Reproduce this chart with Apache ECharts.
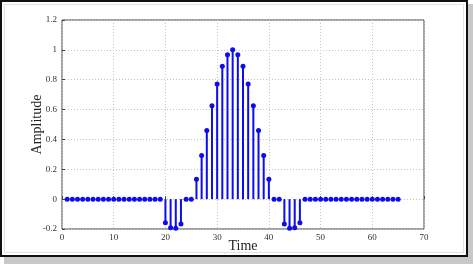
<!DOCTYPE html>
<html><head><meta charset="utf-8">
<script src="https://cdn.jsdelivr.net/npm/echarts@6/dist/echarts.min.js"></script>
<style>html,body{margin:0;padding:0;background:#fff}#c{width:473px;height:264px}</style>
</head><body><div id="c"></div>
<script>
const times = [];
for (let i = 1; i <= 65; i++) times.push(i);
const amplitudes = [
  0,0,0,0,0,0,0,0,0,0,
  0,0,0,0,0,0,0,0,0,-0.158,
  -0.191,-0.195,-0.167,0,0,0.133,0.293,0.46,0.625,0.771,
  0.891,0.967,1.0,0.967,0.891,0.771,0.625,0.46,0.293,0.133,
  0,0,-0.167,-0.195,-0.191,-0.158,0,0,0,0,
  0,0,0,0,0,0,0,0,0,0,
  0,0,0,0,0
];
const xTicks = [0,10,20,30,40,50,60,70];
const yTicks = [-0.2,0,0.2,0.4,0.6,0.8,1,1.2];
const pts = times.map((t,i)=>[t, amplitudes[i]]);
const chart = echarts.init(document.getElementById('c'));
const font = '"Liberation Serif", "Times New Roman", serif';
chart.setOption({
  animation:false,
  graphic:[
    {type:'rect', z:-10, shape:{x:4,y:4,width:469,height:260}, style:{fill:'#c8c8c8'}},
    {type:'rect', z:-9, shape:{x:1,y:1,width:466,height:255}, style:{fill:'#fff', stroke:'#111', lineWidth:2}},
    {type:'rect', z:-8, shape:{x:4.5,y:4.5,width:459,height:248}, style:{fill:'none', stroke:'#e2e2e2', lineWidth:1}}
  ],
  grid:{left:62,right:49,top:20,bottom:35,show:true,borderColor:'#444',borderWidth:1,backgroundColor:'#fff'},
  xAxis:{type:'value',min:0,max:70,interval:10,
    name:'Time',nameLocation:'middle',nameGap:10,nameMoveOverlap:false,
    nameTextStyle:{fontFamily:font,fontSize:14,color:'#222',verticalAlign:'top'},
    axisLine:{show:false},
    axisTick:{show:true,inside:true,length:3,lineStyle:{color:'#444'}},
    axisLabel:{fontFamily:font,fontSize:9,color:'#333',margin:4},
    splitLine:{show:true,lineStyle:{color:'#c4c4c4',type:[1,2],width:1}}
  },
  yAxis:{type:'value',min:-0.2,max:1.2,interval:0.2,
    name:'Amplitude',nameLocation:'middle',nameGap:18,nameRotate:90,nameMoveOverlap:false,
    nameTextStyle:{fontFamily:font,fontSize:14,color:'#222',verticalAlign:'bottom'},
    axisLine:{show:false},
    axisTick:{show:true,inside:true,length:3,lineStyle:{color:'#444'}},
    axisLabel:{fontFamily:font,fontSize:9,color:'#333',margin:5,
      formatter:v=>{const r=Math.round(v*10)/10; return String(r);}},
    splitLine:{show:true,lineStyle:{color:'#c4c4c4',type:[1,2],width:1}}
  },
  series:[
    {type:'custom', data:pts, z:3,
      renderItem:(params,api)=>{
        const p0 = api.coord([api.value(0),0]);
        const p1 = api.coord([api.value(0),api.value(1)]);
        return {type:'line', shape:{x1:p0[0],y1:p0[1],x2:p1[0],y2:p1[1]},
          style:{stroke:'#0c0cec',lineWidth:2}};
      }},
    {type:'scatter', data:pts, symbol:'circle', symbolSize:5, z:4,
      itemStyle:{color:'#0c0cec',opacity:1}}
  ]
});
</script></body></html>
